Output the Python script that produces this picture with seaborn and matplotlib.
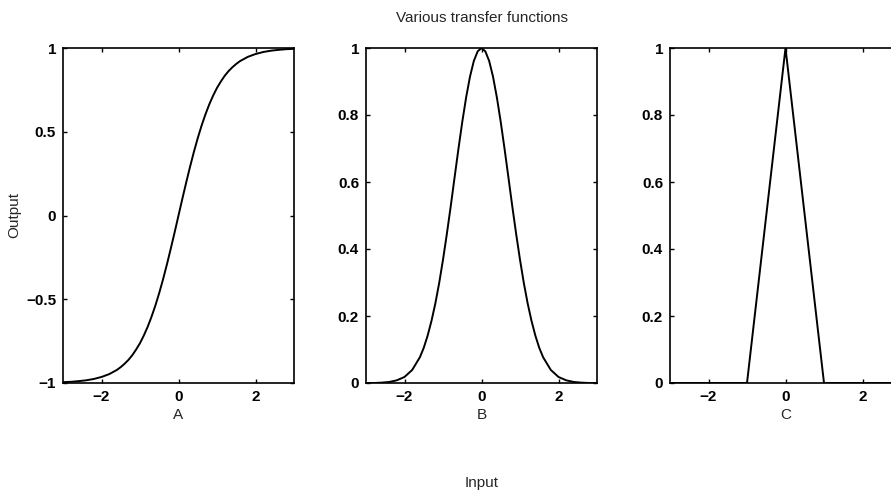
import matplotlib
matplotlib.use("Agg")
import matplotlib.pyplot as plt
import seaborn as sns
import pandas as pd

# ---- data ----
x_half = [0.0, 0.1, 0.2, 0.3, 0.4, 0.5, 0.6, 0.7, 0.8, 0.9, 1.0, 1.1, 1.2, 1.3, 1.4, 1.5,
          1.6, 1.8, 2.0, 2.2, 2.4, 2.6, 2.8, 3.0]
a_half = [0.0, 0.100, 0.197, 0.291, 0.380, 0.462, 0.537, 0.604, 0.664, 0.716, 0.762, 0.800,
          0.834, 0.862, 0.885, 0.905, 0.922, 0.947, 0.964, 0.976, 0.984, 0.989, 0.993, 0.995]
b_half = [1.0, 0.990, 0.961, 0.914, 0.852, 0.779, 0.698, 0.613, 0.527, 0.445, 0.368, 0.298,
          0.237, 0.185, 0.141, 0.105, 0.077, 0.039, 0.018, 0.008, 0.003, 0.001, 0.000, 0.000]

x_ab = [-v for v in x_half[:0:-1]] + x_half
a_vals = [-v for v in a_half[:0:-1]] + a_half
b_vals = b_half[:0:-1] + b_half

x_c = [-3.0, -1.0, 0.0, 1.0, 3.0]
c_vals = [0.0, 0.0, 1.0, 0.0, 0.0]

panel_labels = ["A", "B", "C"]
x_ticks = [-2, 0, 2]
yticks_a = [-1, -0.5, 0, 0.5, 1]
yticklabels_a = ["\u22121", "\u22120.5", "0", "0.5", "1"]
yticks_bc = [0, 0.2, 0.4, 0.6, 0.8, 1]
yticklabels_bc = ["0", "0.2", "0.4", "0.6", "0.8", "1"]
xticklabels = ["\u22122", "0", "2"]

title = "Various transfer functions"
xlabel_common = "Input"
ylabel_common = "Output"

sns.set_style("ticks")
plt.rcParams['font.family'] = ['Liberation Sans', 'DejaVu Sans']
plt.rcParams['font.size'] = 10

W, H = 891, 496
fig = plt.figure(figsize=(W / 100, H / 100), dpi=100)

lefts = [63, 366, 670]
width = 231
top, bottom = 48, 383

datasets = [
    (x_ab, a_vals, yticks_a, yticklabels_a, (-1, 1)),
    (x_ab, b_vals, yticks_bc, yticklabels_bc, (0, 1)),
    (x_c, c_vals, yticks_bc, yticklabels_bc, (0, 1)),
]

for i, (xs, ys, yt, ytl, ylim) in enumerate(datasets):
    ax = fig.add_axes([lefts[i] / W, 1 - bottom / H, width / W, (bottom - top) / H])
    df = pd.DataFrame({"x": xs, "y": ys})
    sns.lineplot(data=df, x="x", y="y", ax=ax, color="black", linewidth=1.4,
                 sort=False, estimator=None)
    ax.set_xlim(-3, 3)
    ax.set_ylim(*ylim)
    ax.set_xticks(x_ticks)
    ax.set_xticklabels(xticklabels)
    ax.set_yticks(yt)
    ax.set_yticklabels(ytl)
    ax.tick_params(direction="in", length=3, width=1, top=True, right=True,
                   labelsize=11, pad=5, colors="black")
    for s in ax.spines.values():
        s.set_visible(True)
        s.set_linewidth(1.2)
        s.set_color("black")
    ax.set_xlabel(panel_labels[i], fontsize=11, labelpad=3)
    ax.set_ylabel("")
    for t in ax.get_xticklabels() + ax.get_yticklabels():
        t.set_fontweight("bold")

fig.text(482 / W, 1 - 18 / H, title, ha="center", va="center", fontsize=11)
fig.text(482 / W, 1 - 483 / H, xlabel_common, ha="center", va="center", fontsize=11)
fig.text(14 / W, 1 - 215 / H, ylabel_common, ha="center", va="center",
         rotation=90, fontsize=11)

fig.savefig("out.png", dpi=100)
